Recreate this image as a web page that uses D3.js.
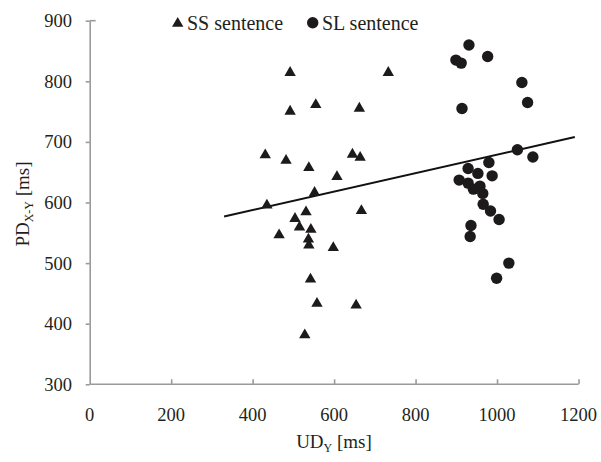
<!DOCTYPE html>
<html>
<head>
<meta charset="utf-8">
<script src="https://cdn.jsdelivr.net/npm/d3@7"></script>
<style>
  body { margin: 0; background: #fff; }
  svg text { font-family: 'Liberation Serif', 'DejaVu Serif', serif; fill: #231f20; }
</style>
</head>
<body>
<svg id="chart" width="601" height="462"></svg>
<script>
// SS sentence (triangles)
const ssX = [492, 733, 555, 492, 662, 431, 482, 645, 664, 538, 607, 552, 435, 531, 667, 504, 515, 543, 465, 537, 538, 598, 542, 558, 654, 528];
const ssY = [816, 816, 763, 752, 757, 680, 671, 681, 676, 659, 644, 618, 597, 586, 588, 575, 561, 557, 548, 541, 531, 527, 475, 435, 432, 383];

// SL sentence (circles)
const slX = [931, 899, 912, 977, 1061, 1075, 914, 1050, 1088, 980, 929, 953, 988, 907, 929, 958, 942, 965, 966, 984, 1005, 936, 934, 1029, 999];
const slY = [860, 835, 830, 841, 798, 765, 755, 687, 675, 666, 656, 648, 644, 637, 632, 627, 622, 615, 597, 586, 572, 562, 544, 500, 475];

// trend line end points
const lineX = [330, 1191];
const lineY = [577, 708];

const xTicks = [0, 200, 400, 600, 800, 1000, 1200];
const yTicks = [300, 400, 500, 600, 700, 800, 900];

const serif = "'Liberation Serif', 'DejaVu Serif', serif";
const svg = d3.select("#chart").attr("font-family", serif);
const x = d3.scaleLinear().domain([0, 1200]).range([89.7, 578.5]);
const y = d3.scaleLinear().domain([300, 900]).range([384.3, 20.7]);
const axisColor = "#9a9a9a";

// x axis
const gx = svg.append("g").attr("transform", `translate(0,${y(300)})`)
  .call(d3.axisTop(x).tickValues(xTicks.slice(1)).tickSize(5).tickSizeOuter(0).tickFormat(""));
gx.select(".domain").attr("stroke", axisColor).attr("stroke-width", 1.6)
  .attr("d", `M${x(0)},0H${x(1200)}`);
gx.selectAll(".tick line").attr("stroke", axisColor).attr("stroke-width", 1.6);

svg.selectAll(".xlab").data(xTicks).enter().append("text")
  .attr("x", (d) => x(d)).attr("y", 421)
  .attr("text-anchor", "middle").attr("font-size", 18.5).text((d) => d);

// y axis
const gy = svg.append("g").attr("transform", `translate(${x(0)},0)`)
  .call(d3.axisLeft(y).tickValues(yTicks).tickSize(4).tickSizeOuter(0).tickFormat(""));
gy.select(".domain").attr("stroke", axisColor).attr("stroke-width", 1.6);
gy.selectAll(".tick line").attr("stroke", axisColor).attr("stroke-width", 1.6);
svg.append("line").attr("x1", x(0)).attr("x2", x(0) + 6)
  .attr("y1", y(900)).attr("y2", y(900)).attr("stroke", axisColor).attr("stroke-width", 1.6);

svg.selectAll(".ylab").data(yTicks).enter().append("text")
  .attr("x", 72).attr("y", (d) => y(d) + 6.5)
  .attr("text-anchor", "end").attr("font-size", 18.5).text((d) => d);

// axis titles
const xt = svg.append("text").attr("x", 334).attr("y", 448)
  .attr("text-anchor", "middle").attr("font-size", 19);
xt.append("tspan").text("UD");
xt.append("tspan").attr("font-size", 12).attr("dy", 4).text("Y");
xt.append("tspan").attr("dy", -4).text(" [ms]");

const yt = svg.append("text").attr("transform", "translate(29,204) rotate(-90)")
  .attr("text-anchor", "middle").attr("font-size", 19);
yt.append("tspan").text("PD");
yt.append("tspan").attr("font-size", 12).attr("dy", 4).text("X-Y");
yt.append("tspan").attr("dy", -4).text(" [ms]");

// trend line
svg.append("line")
  .attr("x1", x(lineX[0])).attr("y1", y(lineY[0]))
  .attr("x2", x(lineX[1])).attr("y2", y(lineY[1]))
  .attr("stroke", "#111").attr("stroke-width", 2);

const tri = d3.symbol().type(d3.symbolTriangle).size(56);
const markColor = "#1c1a1b";

svg.selectAll(".ss").data(ssX).enter().append("path")
  .attr("d", tri)
  .attr("transform", (d, i) => `translate(${x(d)},${y(ssY[i]) + 1})`)
  .attr("fill", markColor);

svg.selectAll(".sl").data(slX).enter().append("circle")
  .attr("cx", (d) => x(d)).attr("cy", (d, i) => y(slY[i]))
  .attr("r", 5.7).attr("fill", markColor);

// legend
svg.append("path").attr("d", tri).attr("transform", "translate(177.7,23.5)").attr("fill", markColor);
svg.append("text").attr("x", 187).attr("y", 29.5).attr("font-size", 20).text("SS sentence");
svg.append("circle").attr("cx", 312.7).attr("cy", 22.7).attr("r", 5.7).attr("fill", markColor);
svg.append("text").attr("x", 322).attr("y", 29.5).attr("font-size", 20).text("SL sentence");
</script>
</body>
</html>
